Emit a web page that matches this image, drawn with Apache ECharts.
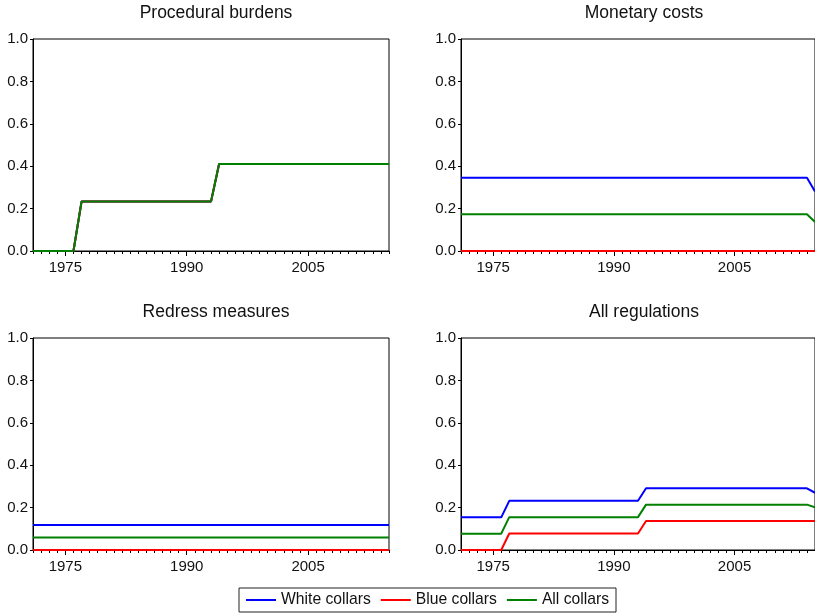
<!DOCTYPE html>
<html>
<head>
<meta charset="utf-8">
<script src="https://cdn.jsdelivr.net/npm/echarts@6/dist/echarts.min.js"></script>
<style>
  html, body { margin: 0; padding: 0; background: #fff; }
  #chart { width: 815px; height: 614px; }
</style>
</head>
<body>
<div id="chart"></div>
<script>
// Annual observations, 1971-2015
const years = ['1971','1972','1973','1974','1975','1976','1977','1978','1979','1980',
  '1981','1982','1983','1984','1985','1986','1987','1988','1989','1990',
  '1991','1992','1993','1994','1995','1996','1997','1998','1999','2000',
  '2001','2002','2003','2004','2005','2006','2007','2008','2009','2010',
  '2011','2012','2013','2014','2015'];
const labelYears = ['1975', '1990', '2005'];
const panelTitles = ['Procedural burdens', 'Monetary costs', 'Redress measures', 'All regulations'];
const seriesNames = ['White collars', 'Blue collars', 'All collars'];
const seriesColors = ['#0000ff', '#ff0000', '#008000'];

// Procedural burdens (identical for white, blue and all collars)
const proceduralWhite = [0,0,0,0,0,0,0.233,0.233,0.233,0.233,0.233,0.233,0.233,0.233,0.233,0.233,0.233,0.233,0.233,0.233,0.233,0.233,0.233,0.41,0.41,0.41,0.41,0.41,0.41,0.41,0.41,0.41,0.41,0.41,0.41,0.41,0.41,0.41,0.41,0.41,0.41,0.41,0.41,0.41,0.41];
const proceduralBlue  = [0,0,0,0,0,0,0.233,0.233,0.233,0.233,0.233,0.233,0.233,0.233,0.233,0.233,0.233,0.233,0.233,0.233,0.233,0.233,0.233,0.41,0.41,0.41,0.41,0.41,0.41,0.41,0.41,0.41,0.41,0.41,0.41,0.41,0.41,0.41,0.41,0.41,0.41,0.41,0.41,0.41,0.41];
const proceduralAll   = [0,0,0,0,0,0,0.233,0.233,0.233,0.233,0.233,0.233,0.233,0.233,0.233,0.233,0.233,0.233,0.233,0.233,0.233,0.233,0.233,0.41,0.41,0.41,0.41,0.41,0.41,0.41,0.41,0.41,0.41,0.41,0.41,0.41,0.41,0.41,0.41,0.41,0.41,0.41,0.41,0.41,0.41];

// Monetary costs
const monetaryWhite = [0.345,0.345,0.345,0.345,0.345,0.345,0.345,0.345,0.345,0.345,0.345,0.345,0.345,0.345,0.345,0.345,0.345,0.345,0.345,0.345,0.345,0.345,0.345,0.345,0.345,0.345,0.345,0.345,0.345,0.345,0.345,0.345,0.345,0.345,0.345,0.345,0.345,0.345,0.345,0.345,0.345,0.345,0.345,0.345,0.281];
const monetaryBlue  = [0,0,0,0,0,0,0,0,0,0,0,0,0,0,0,0,0,0,0,0,0,0,0,0,0,0,0,0,0,0,0,0,0,0,0,0,0,0,0,0,0,0,0,0,0];
const monetaryAll   = [0.173,0.173,0.173,0.173,0.173,0.173,0.173,0.173,0.173,0.173,0.173,0.173,0.173,0.173,0.173,0.173,0.173,0.173,0.173,0.173,0.173,0.173,0.173,0.173,0.173,0.173,0.173,0.173,0.173,0.173,0.173,0.173,0.173,0.173,0.173,0.173,0.173,0.173,0.173,0.173,0.173,0.173,0.173,0.173,0.137];

// Redress measures
const redressWhite = [0.118,0.118,0.118,0.118,0.118,0.118,0.118,0.118,0.118,0.118,0.118,0.118,0.118,0.118,0.118,0.118,0.118,0.118,0.118,0.118,0.118,0.118,0.118,0.118,0.118,0.118,0.118,0.118,0.118,0.118,0.118,0.118,0.118,0.118,0.118,0.118,0.118,0.118,0.118,0.118,0.118,0.118,0.118,0.118,0.118];
const redressBlue  = [0,0,0,0,0,0,0,0,0,0,0,0,0,0,0,0,0,0,0,0,0,0,0,0,0,0,0,0,0,0,0,0,0,0,0,0,0,0,0,0,0,0,0,0,0];
const redressAll   = [0.059,0.059,0.059,0.059,0.059,0.059,0.059,0.059,0.059,0.059,0.059,0.059,0.059,0.059,0.059,0.059,0.059,0.059,0.059,0.059,0.059,0.059,0.059,0.059,0.059,0.059,0.059,0.059,0.059,0.059,0.059,0.059,0.059,0.059,0.059,0.059,0.059,0.059,0.059,0.059,0.059,0.059,0.059,0.059,0.059];

// All regulations
const allWhite = [0.154,0.154,0.154,0.154,0.154,0.154,0.232,0.232,0.232,0.232,0.232,0.232,0.232,0.232,0.232,0.232,0.232,0.232,0.232,0.232,0.232,0.232,0.232,0.291,0.291,0.291,0.291,0.291,0.291,0.291,0.291,0.291,0.291,0.291,0.291,0.291,0.291,0.291,0.291,0.291,0.291,0.291,0.291,0.291,0.270];
const allBlue  = [0,0,0,0,0,0,0.078,0.078,0.078,0.078,0.078,0.078,0.078,0.078,0.078,0.078,0.078,0.078,0.078,0.078,0.078,0.078,0.078,0.137,0.137,0.137,0.137,0.137,0.137,0.137,0.137,0.137,0.137,0.137,0.137,0.137,0.137,0.137,0.137,0.137,0.137,0.137,0.137,0.137,0.137];
const allAll   = [0.077,0.077,0.077,0.077,0.077,0.077,0.155,0.155,0.155,0.155,0.155,0.155,0.155,0.155,0.155,0.155,0.155,0.155,0.155,0.155,0.155,0.155,0.155,0.214,0.214,0.214,0.214,0.214,0.214,0.214,0.214,0.214,0.214,0.214,0.214,0.214,0.214,0.214,0.214,0.214,0.214,0.214,0.214,0.214,0.202];

const yTicks = { min: 0, max: 1, interval: 0.2 };

const panelData = [
  [proceduralWhite, proceduralBlue, proceduralAll],
  [monetaryWhite, monetaryBlue, monetaryAll],
  [redressWhite, redressBlue, redressAll],
  [allWhite, allBlue, allAll]
];

const FONT = '"Liberation Sans", Arial, sans-serif';
const INK = '#111';

// panel frames: left/top in px, all panels 356 x 212
const frames = [
  { left: 33,  top: 39 },
  { left: 461, top: 39 },
  { left: 33,  top: 338 },
  { left: 461, top: 338 }
];
const PW = 356, PH = 212;

const isLabelYear = (idx, val) => labelYears.indexOf(val) >= 0;

const grid = frames.map(f => ({
  left: f.left, top: f.top, width: PW, height: PH,
  show: true, borderColor: '#000', borderWidth: 1, backgroundColor: '#fff'
}));

const xAxis = [];
const yAxis = [];
frames.forEach((f, i) => {
  // year axis with a tick for every observation
  xAxis.push({
    type: 'category', gridIndex: i, data: years, boundaryGap: false,
    axisLine: { show: true, lineStyle: { color: '#000', width: 1 } },
    axisTick: { show: true, interval: 0, length: 3, lineStyle: { color: '#000' } },
    axisLabel: { interval: isLabelYear, margin: 9, fontFamily: FONT, fontSize: 15, color: INK },
    splitLine: { show: false }
  });
  // longer ticks at the labelled years
  xAxis.push({
    type: 'category', gridIndex: i, data: years, boundaryGap: false, position: 'bottom',
    axisLine: { show: false },
    axisTick: { show: true, interval: isLabelYear, length: 5, lineStyle: { color: '#000' } },
    axisLabel: { show: false },
    splitLine: { show: false }
  });
  yAxis.push({
    type: 'value', gridIndex: i, min: yTicks.min, max: yTicks.max, interval: yTicks.interval,
    axisLine: { show: true, lineStyle: { color: '#000', width: 1 } },
    axisTick: { show: true, length: 3, lineStyle: { color: '#000' } },
    axisLabel: { margin: 5, fontFamily: FONT, fontSize: 15, color: INK, formatter: v => v.toFixed(1) },
    splitLine: { show: false }
  });
});

const title = frames.map((f, i) => ({
  text: panelTitles[i],
  left: f.left + PW / 2,
  top: f.top - 40,
  textAlign: 'center',
  textStyle: { fontFamily: FONT, fontSize: 17.5, fontWeight: 'normal', color: INK }
}));

const series = [];
panelData.forEach((group, p) => {
  group.forEach((vals, s) => {
    series.push({
      name: seriesNames[s], type: 'line',
      xAxisIndex: p * 2, yAxisIndex: p,
      data: vals, showSymbol: false, symbol: 'none',
      lineStyle: { color: seriesColors[s], width: 2 },
      itemStyle: { color: seriesColors[s] },
      animation: false, z: 2 + s
    });
  });
});

const chart = echarts.init(document.getElementById('chart'), null, { renderer: 'canvas' });
chart.setOption({
  backgroundColor: '#fff',
  animation: false,
  title,
  grid,
  xAxis,
  yAxis,
  legend: {
    data: seriesNames,
    left: 239, top: 588,
    padding: [4, 7, 4, 7],
    itemGap: 10,
    itemWidth: 30, itemHeight: 2,
    icon: 'rect',
    borderColor: '#222', borderWidth: 1,
    backgroundColor: '#fff',
    textStyle: { fontFamily: FONT, fontSize: 15.7, color: INK }
  },
  series
});
</script>
</body>
</html>
